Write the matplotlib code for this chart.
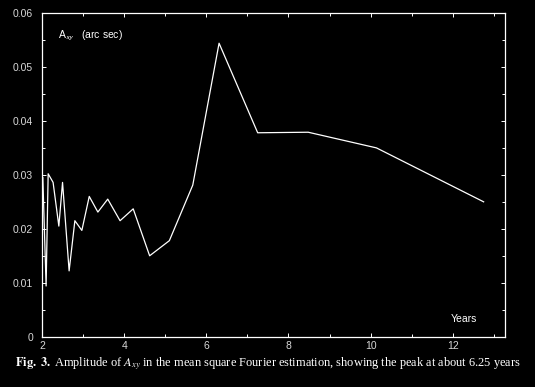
import matplotlib
matplotlib.use("Agg")
import matplotlib.pyplot as plt
from matplotlib.ticker import MultipleLocator

# Period (years) and amplitude (arc sec)
years = [2.02, 2.10, 2.15, 2.27, 2.41, 2.50, 2.66, 2.80, 2.97, 3.15, 3.36,
         3.60, 3.90, 4.22, 4.62, 5.10, 5.67, 6.31, 7.25, 8.48, 10.14, 12.75]
amplitude = [0.0295, 0.0094, 0.0302, 0.0286, 0.0205, 0.0286, 0.0122, 0.0215,
             0.0197, 0.0260, 0.0231, 0.0255, 0.0215, 0.0237, 0.0150, 0.0178,
             0.0281, 0.0544, 0.0378, 0.0379, 0.0350, 0.0250]

x_ticks = [2, 4, 6, 8, 10, 12]
y_ticks = [0, 0.01, 0.02, 0.03, 0.04, 0.05, 0.06]
y_ticklabels = ["0", "0.01", "0.02", "0.03", "0.04", "0.05", "0.06"]

caption = (r"$\mathbf{Fig.\ 3.}$ Amplitude of $A_{xy}$ in the mean square "
           "Fourier estimation, showing the peak at about 6.25 years")

BG = "black"
FG = "white"
TICK_TEXT = "#d8d8d8"

plt.rcParams["font.family"] = ["Liberation Sans", "DejaVu Sans"]
plt.rcParams["mathtext.fontset"] = "stix"

fig = plt.figure(figsize=(5.35, 3.87), dpi=100, facecolor=BG)
ax = fig.add_axes([42 / 535, 1 - 336.7 / 387, (505 - 42) / 535, (336.7 - 13) / 387])
ax.set_facecolor(BG)

ax.plot(years, amplitude, color=FG, linewidth=0.9)

ax.set_xlim(2, 13.27)
ax.set_ylim(0, 0.06)
ax.set_xticks(x_ticks)
ax.set_xticklabels([str(t) for t in x_ticks])
ax.set_yticks(y_ticks)
ax.set_yticklabels(y_ticklabels)
ax.xaxis.set_minor_locator(MultipleLocator(1))
ax.yaxis.set_minor_locator(MultipleLocator(0.005))

for spine in ax.spines.values():
    spine.set_color(FG)
    spine.set_linewidth(0.9)

ax.tick_params(axis="both", which="both", direction="in", colors=FG,
               labelcolor=TICK_TEXT, top=True, right=True, labelsize=7.5,
               width=0.7)
ax.tick_params(axis="both", which="major", length=3)
ax.tick_params(axis="both", which="minor", length=2)
ax.tick_params(axis="y", which="major", pad=6.5)
ax.tick_params(axis="x", which="major", pad=3)

ax.text(0.035, 0.95, r"A$_{\mathsf{xy}}$   (arc sec)", transform=ax.transAxes,
        color=FG, fontsize=7.5, va="top", ha="left")
ax.text(0.94, 0.04, "Years", transform=ax.transAxes, color=FG, fontsize=7.5,
        ha="right", va="bottom")

fig.text(0.5, 1 - 366 / 387, caption, color=FG, ha="center", va="baseline",
         fontsize=8.9, family="Liberation Serif")

fig.savefig("out.png", dpi=100, facecolor=BG)
